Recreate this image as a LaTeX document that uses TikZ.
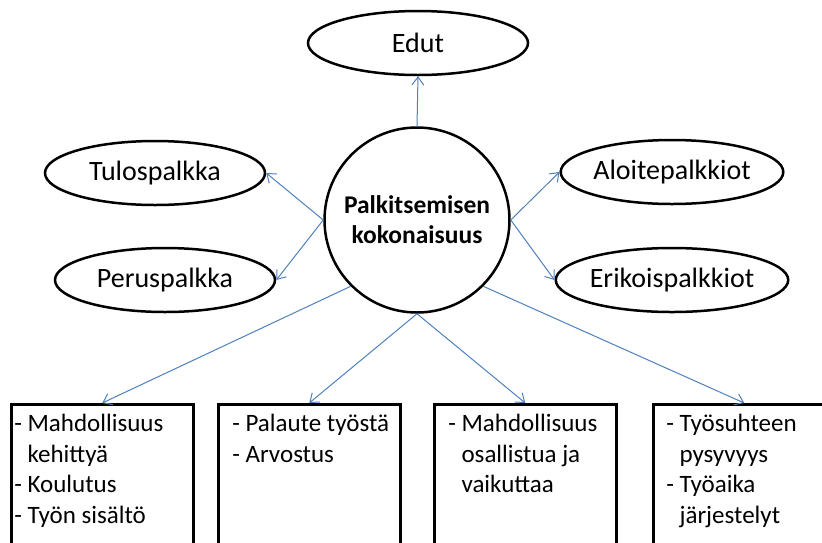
\documentclass[tikz,border=0pt]{standalone}
\usepackage{fontspec}
\setmainfont{Carlito}
\usetikzlibrary{shapes.geometric,arrows.meta}
\definecolor{arrowblue}{RGB}{79,129,189}
\newcommand{\celltext}[2]{\begin{minipage}[t][150pt][t]{176pt}\raggedright\leftskip=#1\relax #2\end{minipage}}

\begin{document}
\begin{tikzpicture}[x=1pt,y=-1pt,
    oval/.style={draw,ellipse,line width=2.5pt,minimum width=220pt,minimum height=64pt,inner sep=0pt,font=\fontsize{28}{31}\selectfont},
    hub/.style={draw,circle,line width=2.5pt,minimum size=185pt,inner sep=0pt,align=center,font=\bfseries\fontsize{25.5}{30}\selectfont},
    cell/.style={draw,line width=2.5pt,anchor=north west,inner xsep=3pt,inner ysep=10pt,font=\fontsize{25}{30.5}\selectfont},
    link/.style={draw=arrowblue,line width=1pt,-{Straight Barb[length=8pt,width=12pt]}}]
    % Frame
        \path[use as bounding box] (0,0) rectangle (822,542);
        \clip (0,0) rectangle (822,542);
        \fill[white] (0,0) rectangle (822,542);

        % Centre
        \node[hub] (koko) at (417,220) {Palkitsemisen\\kokonaisuus};

        % Ellipses
        \node[oval] (edut) at (418,43) {Edut};
        \node[oval] (tulos) at (155,173) {Tulospalkka};
        \node[oval] (perus) at (165,280) {Peruspalkka};
        \node[oval] (aloite) at (672,172) {Aloitepalkkiot};
        \node[oval] (erikois) at (672,280) {Erikoispalkkiot};

        % Boxes
        \node[cell] (kehitys) at (10,403)
            {\celltext{0pt}{- Mahdollisuus\\\hphantom{- }kehittyä\\- Koulutus\\- Työn sisältö}};
        \node[cell] (palaute) at (217,403)
            {\celltext{11pt}{- Palaute työstä\\- Arvostus}};
        \node[cell] (osallisuus) at (433,403)
            {\celltext{11pt}{- Mahdollisuus\\\hphantom{- }osallistua ja\\\hphantom{- }vaikuttaa}};
        \node[cell] (pysyvyys) at (652,403)
            {\celltext{10pt}{- Työsuhteen\\\hphantom{- }pysyvyys\\- Työaika\\\hphantom{- }järjestelyt}};

        % Arrows
        \draw[link] (koko.north) -- (edut.south);
        \draw[link] (koko.west) -- (tulos.east);
        \draw[link] (koko.west) -- (perus.east);
        \draw[link] (koko.east) -- (aloite.west);
        \draw[link] (koko.east) -- (erikois.west);
        \draw[link] (koko.225) -- (kehitys.north);
        \draw[link] (koko.south) -- (palaute.north);
        \draw[link] (koko.south) -- (osallisuus.north);
        \draw[link] (koko.-45) -- (pysyvyys.north);
\end{tikzpicture}
\end{document}
